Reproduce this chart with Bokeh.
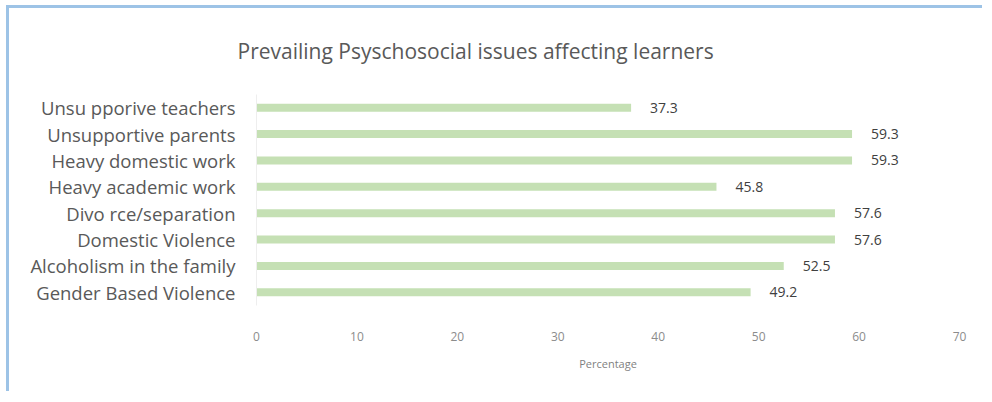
from bokeh.plotting import figure
from bokeh.models import ColumnDataSource, FactorRange, Title
from bokeh.core.properties import value
from bokeh.embed import file_html
from bokeh.resources import INLINE

categories = ["Gender Based Violence", "Alcoholism in the family", "Domestic Violence",
              "Divo rce/separation", "Heavy academic work", "Heavy domestic work",
              "Unsupportive parents", "Unsu pporive teachers"]
values = [49.2, 52.5, 57.6, 57.6, 45.8, 59.3, 59.3, 37.3]
labels = ["49.2", "52.5", "57.6", "57.6", "45.8", "59.3", "59.3", "37.3"]
x_ticks = [0, 10, 20, 30, 40, 50, 60, 70]
chart_title = "Prevailing  Psyschosocial issues affecting learners"

src = ColumnDataSource(dict(cat=categories, val=values, lab=labels))

p = figure(width=976, height=386, output_backend="svg", toolbar_location=None,
           y_range=FactorRange(factors=categories, range_padding=0), x_range=(0, 70),
           min_border_left=247, min_border_right=26, min_border_top=86, min_border_bottom=89)
p.styles = {"border-left": "3px solid #9dc3e6", "border-top": "3px solid #9dc3e6",
            "margin-left": "6px", "margin-top": "5px"}

# spacer (closest to the frame), then the visible title above it
p.add_layout(Title(text="\u00a0", text_font_size="21px", standoff=0), "above")
p.add_layout(Title(text=chart_title, align="left", offset=-19, text_font="Open Sans",
                   text_font_size="21px", text_font_style="normal", text_color="#595959"), "above")

p.hbar(y="cat", right="val", left=0, height=0.3, source=src, color="#c5e0b4", line_color=None)
p.text(x="val", y="cat", text="lab", source=src, x_offset=19, text_baseline="middle",
       text_font_size="14px", text_color="#404040", text_font=value("Open Sans"))

p.outline_line_color = None
p.grid.grid_line_color = None
p.background_fill_color = "white"

p.xaxis.ticker = x_ticks
p.xaxis.axis_line_color = None
p.xaxis.major_tick_line_color = None
p.xaxis.minor_tick_line_color = None
p.xaxis.major_label_text_font = "Open Sans"
p.xaxis.major_label_text_font_size = "12px"
p.xaxis.major_label_text_color = "#8c8c8c"
p.xaxis.major_label_standoff = 20
p.xaxis.axis_label = "Percentage"
p.xaxis.axis_label_text_font = "Open Sans"
p.xaxis.axis_label_text_font_size = "11px"
p.xaxis.axis_label_text_font_style = "normal"
p.xaxis.axis_label_text_color = "#7f7f7f"
p.xaxis.axis_label_standoff = 12

p.yaxis.axis_line_color = "#eeeeee"
p.yaxis.major_tick_line_color = None
p.yaxis.minor_tick_line_color = None
p.yaxis.major_label_text_font = "Open Sans"
p.yaxis.major_label_text_font_size = "18.5px"
p.yaxis.major_label_text_color = "#595959"
p.yaxis.major_label_standoff = 15

open("out.html", "w").write(file_html(p, INLINE))
